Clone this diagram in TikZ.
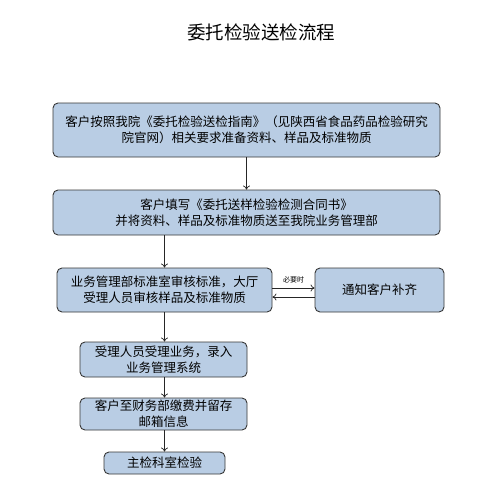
\documentclass[tikz,border=0pt]{standalone}
\usepackage{fontspec}
\setmainfont{Noto Sans CJK SC}
\usepackage{tikz}
\usetikzlibrary{arrows.meta, positioning, calc}
\definecolor{boxblue}{RGB}{185,205,228}
\definecolor{boxline}{RGB}{55,55,55}

\begin{document}
\begin{tikzpicture}[x=1pt, y=-1pt]
  \tikzset{stepbox/.style={rectangle, draw=boxline, line width=0.9pt,
                           rounded corners=5pt, fill=boxblue,
                           align=center, font=\fontsize{12.5}{16}\selectfont,
                           inner sep=0pt}}
  \tikzset{flow/.style={-{To[length=4pt,width=7pt]}, line width=0.7pt, draw=black!85}}
  \useasboundingbox (0,0) rectangle (498,498);

  % title
  \node[font=\fontsize{18.5}{20}\selectfont] (title) at (261,32) {委托检验送检流程};

  % main column
  \node[stepbox, minimum width=387pt, minimum height=54pt] (b1) at (246.5,130)
    {客户按照我院《委托检验送检指南》（见陕西省食品药品检验研究\\院官网）相关要求准备资料、样品及标准物质};
  \node[stepbox, minimum width=387pt, minimum height=45pt] (b2) at (246.5,212.5)
    {客户填写《委托送样检验检测合同书》\\并将资料、样品及标准物质送至我院业务管理部};
  \node[stepbox, minimum width=215pt, minimum height=44pt] (b3) at (164.5,290)
    {业务管理部标准室审核标准，大厅\\受理人员审核样品及标准物质};
  \node[stepbox, minimum width=129pt, minimum height=44pt] (b4) at (379.5,290)
    {通知客户补齐};
  \node[stepbox, minimum width=167pt, minimum height=35pt] (b5) at (163.5,359.5)
    {受理人员受理业务，录入\\业务管理系统};
  \node[stepbox, minimum width=167pt, minimum height=32pt] (b6) at (163.5,414)
    {客户至财务部缴费并留存\\邮箱信息};
  \node[stepbox, minimum width=121pt, minimum height=22pt] (b7) at (164.5,463)
    {主检科室检验};

  % arrows
  \draw[flow] (b1) -- (b2);
  \draw[flow] (b3.north |- b2.south) -- (b3.north);
  \draw[flow] (b3.south) -- (b5.north -| b3.south);
  \draw[flow] (b5.south -| b3.south) -- (b6.north -| b3.south);
  \draw[flow] (b6.south -| b3.south) -- (b7.north -| b3.south);
  \draw[flow] ([yshift=2pt]b3.east) -- ([yshift=2pt]b4.west)
    node[midway, above=1pt, font=\fontsize{7}{8}\selectfont] (need) {必要时};
  \draw[flow] ([yshift=-7pt]b4.west) -- ([yshift=-7pt]b3.east);
\end{tikzpicture}
\end{document}
